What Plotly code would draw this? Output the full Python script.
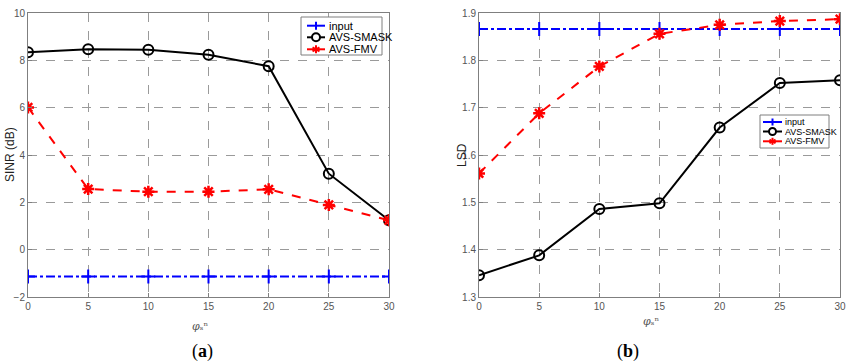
import plotly.graph_objects as go

x_vals = [0, 5, 10, 15, 20, 25, 30]
sinr_input = [-1.13, -1.13, -1.13, -1.13, -1.13, -1.13, -1.13]
sinr_smask = [8.34, 8.47, 8.45, 8.24, 7.75, 3.21, 1.24]
sinr_fmv = [6.01, 2.56, 2.45, 2.45, 2.55, 1.89, 1.24]
lsd_input = [1.866, 1.866, 1.866, 1.866, 1.866, 1.866, 1.866]
lsd_smask = [1.346, 1.388, 1.486, 1.498, 1.658, 1.752, 1.758]
lsd_fmv = [1.561, 1.688, 1.787, 1.856, 1.875, 1.883, 1.887]
series_names = ["input", "AVS-SMASK", "AVS-FMV"]
series_colors = ["#0000ff", "#000000", "#ff0000"]
x_ticks = [0, 5, 10, 15, 20, 25, 30]
sinr_ticks = [-2, 0, 2, 4, 6, 8, 10]
lsd_ticks = [1.3, 1.4, 1.5, 1.6, 1.7, 1.8, 1.9]

W, H = 850, 364
fig = go.Figure()

def add_series(xa, ya, ys):
    fig.add_trace(go.Scatter(x=x_vals, y=ys[0], name=series_names[0], xaxis=xa, yaxis=ya,
                             mode="lines+markers",
                             line=dict(color=series_colors[0], width=2, dash="dashdot"),
                             marker=dict(symbol="cross-thin-open", size=10, line=dict(color=series_colors[0], width=2))))
    fig.add_trace(go.Scatter(x=x_vals, y=ys[1], name=series_names[1], xaxis=xa, yaxis=ya,
                             mode="lines+markers",
                             line=dict(color=series_colors[1], width=2),
                             marker=dict(symbol="circle-open", size=10, line=dict(color=series_colors[1], width=2))))
    fig.add_trace(go.Scatter(x=x_vals, y=ys[2], name=series_names[2], xaxis=xa, yaxis=ya,
                             mode="lines+markers",
                             line=dict(color=series_colors[2], width=2, dash="dash"),
                             marker=dict(symbol="asterisk-open", size=10, line=dict(color=series_colors[2], width=2.5))))

add_series("x", "y", [sinr_input, sinr_smask, sinr_fmv])
add_series("x2", "y2", [lsd_input, lsd_smask, lsd_fmv])

yd = [1 - 297 / H, 1 - 13 / H]
axis_common = dict(showline=True, mirror=True, linecolor="#7f7f7f", linewidth=1,
                   showgrid=True, gridcolor="#9a9a9a", griddash="dash", gridwidth=1,
                   ticks="inside", ticklen=4, tickcolor="#7f7f7f", zeroline=False,
                   automargin=False,
                   tickfont=dict(family="Liberation Sans, Arial", size=10, color="#555555"))

fig.update_layout(
    width=W, height=H, margin=dict(l=0, r=0, t=0, b=0, autoexpand=False),
    paper_bgcolor="white", plot_bgcolor="white", showlegend=False,
    xaxis=dict(domain=[28 / W, 389 / W], range=[0, 30], tickvals=x_ticks, anchor="y", **axis_common),
    yaxis=dict(domain=yd, range=[-2, 10], tickvals=sinr_ticks, anchor="x", **axis_common),
    xaxis2=dict(domain=[479 / W, 840 / W], range=[0, 30], tickvals=x_ticks, anchor="y2", **axis_common),
    yaxis2=dict(domain=yd, range=[1.3, 1.9], tickvals=lsd_ticks, tickformat=".1f", anchor="x2", **axis_common),
)

# ---- manual legends (pixel helper) ----
def px(x):
    return x / W

def py(y):
    return 1 - y / H

def legend_box(x0, y0, x1, y1, rows, lx0, lx1, fsize, msize, tx):
    fig.add_shape(type="rect", xref="paper", yref="paper", x0=px(x0), x1=px(x1), y0=py(y0), y1=py(y1),
                  line=dict(color="#7f7f7f", width=1), fillcolor="white", layer="above")
    for i, ry in enumerate(rows):
        c = series_colors[i]
        fig.add_shape(type="line", xref="paper", yref="paper", x0=px(lx0), x1=px(lx1), y0=py(ry), y1=py(ry),
                      line=dict(color=c, width=2, dash="solid"), layer="above")
        mx = (lx0 + lx1) / 2
        r = msize / 2
        if i == 0:
            fig.add_shape(type="line", xref="paper", yref="paper", x0=px(mx), x1=px(mx), y0=py(ry - r), y1=py(ry + r),
                          line=dict(color=c, width=2), layer="above")
        elif i == 1:
            fig.add_shape(type="circle", xref="paper", yref="paper", x0=px(mx - r), x1=px(mx + r),
                          y0=py(ry - r), y1=py(ry + r), line=dict(color=c, width=2), fillcolor="white", layer="above")
        else:
            for dx, dy in [(0, r), (r * 0.87, r * 0.5), (r * 0.87, -r * 0.5)]:
                fig.add_shape(type="line", xref="paper", yref="paper", x0=px(mx - dx), x1=px(mx + dx),
                              y0=py(ry - dy), y1=py(ry + dy), line=dict(color=c, width=2), layer="above")
        fig.add_annotation(text=series_names[i], x=px(tx), y=py(ry), xref="paper", yref="paper",
                           xanchor="left", yanchor="middle", showarrow=False,
                           font=dict(family="Liberation Sans, Arial", size=fsize, color="#000"))

legend_box(301, 17, 382, 55, [25.7, 37.3, 49.3], 307, 325, 11, 8, 327)
legend_box(760, 115, 829, 148, [122, 131.5, 141.3], 763, 782, 9, 7, 783)

ann_font = dict(family="Liberation Sans, Arial", size=12, color="#222")
fig.add_annotation(text="SINR (dB)", x=px(1), y=py(155), xref="paper", yref="paper",
                   xanchor="left", textangle=-90, showarrow=False, font=ann_font)
fig.add_annotation(text="LSD", x=px(453), y=py(155), xref="paper", yref="paper",
                   xanchor="left", textangle=-90, showarrow=False, font=ann_font)
xt = "<i>φ</i>ₛⁿ"
fig.add_annotation(text=xt, x=px(190), y=py(318), xref="paper", yref="paper", yanchor="top",
                   showarrow=False, font=dict(family="DejaVu Serif", size=11, color="#555"))
fig.add_annotation(text=xt, x=px(661), y=py(313), xref="paper", yref="paper", yanchor="top",
                   showarrow=False, font=dict(family="DejaVu Serif", size=11, color="#555"))
cap_font = dict(family="Liberation Serif, Times New Roman", size=18, color="#000")
fig.add_annotation(text="(<b>a</b>)", x=px(190), y=py(364), xref="paper", yref="paper", yanchor="bottom",
                   showarrow=False, font=cap_font)
fig.add_annotation(text="(<b>b</b>)", x=px(641), y=py(364), xref="paper", yref="paper", yanchor="bottom",
                   showarrow=False, font=cap_font)

fig.write_html("out.html", config={"displayModeBar": False},
               post_script="document.body.style.margin='0';document.body.style.overflow='hidden';")
